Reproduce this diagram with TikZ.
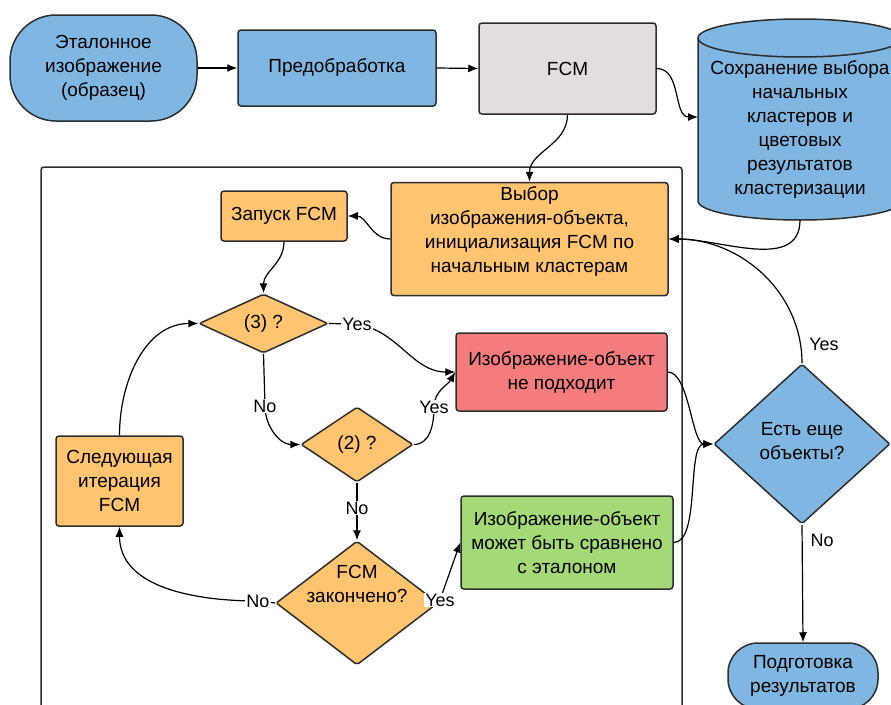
\documentclass[tikz,border=0pt]{standalone}
\usepackage{fontspec}
\setmainfont{Liberation Sans}
\usetikzlibrary{shapes.geometric,arrows.meta}
\definecolor{cblue}{RGB}{128,183,226}
\definecolor{corange}{RGB}{254,196,112}
\definecolor{cred}{RGB}{244,124,124}
\definecolor{cgreen}{RGB}{163,217,119}
\definecolor{cgrey}{RGB}{228,221,223}
\definecolor{cline}{RGB}{45,45,45}
\begin{document}
\begin{tikzpicture}[x=1pt,y=1pt,
  txt/.style={align=center, inner sep=0pt, font=\fontsize{19}{24}\selectfont, text=black},
  box/.style={txt, draw=cline, line width=1.5pt, rounded corners=3pt},
  dia/.style={txt, draw=cline, line width=1.5pt, shape=diamond, rounded corners=2pt},
  lbl/.style={fill=white, inner sep=1pt, font=\fontsize{18}{20}\selectfont, text=black},
  plainlbl/.style={inner sep=1pt, font=\fontsize{18}{20}\selectfont, text=black},
  conn/.style={draw=black, line width=1.2pt, -{Latex[length=10pt,width=8pt]}},
]
\useasboundingbox (0,0) rectangle (891,-704);
\clip (0,0) rectangle (891,-704);

% container
\draw[cline, line width=1.5pt, rounded corners=3pt] (41,-167) rectangle (682,-740);

% top row
\node[box, fill=cblue, rounded corners=46pt, minimum width=187pt, minimum height=106pt] (ref) at (103.5,-68) {Эталонное\\изображение\\(образец)};
\node[box, fill=cblue, minimum width=198pt, minimum height=76pt] (pre) at (337,-68) {Предобработка};
\node[box, fill=cgrey, minimum width=177pt, minimum height=91pt] (fcm) at (567.5,-68.5) {FCM};

% cylinder
\path[draw=cline, fill=cblue, line width=1.5pt] (698,-38) -- (698,-201)
  arc[start angle=180, end angle=360, x radius=102, y radius=19] -- (902,-38)
  arc[start angle=0, end angle=180, x radius=102, y radius=19] -- cycle;
\draw[cline, line width=1.5pt] (698,-38) arc[start angle=180, end angle=360, x radius=102, y radius=19];
\node[txt] (cyl) at (800,-130) {Сохранение выбора\\начальных\\кластеров и\\цветовых\\результатов\\кластеризации};
\coordinate (cylL) at (698,-117);
\coordinate (cylB) at (800,-220);

% inner flow
\node[box, fill=corange, minimum width=277pt, minimum height=113pt] (sel) at (529.5,-239) {};
\node[txt] (seltxt) at (529.5,-232) {Выбор\\изображения-объекта,\\инициализация FCM по\\начальным кластерам};
\node[box, fill=corange, minimum width=126pt, minimum height=50pt] (start) at (284,-216) {Запуск FCM};
\node[dia, fill=corange, minimum width=129pt, minimum height=59pt] (d3) at (263.5,-323.5) {(3) ?};
\node[dia, fill=corange, minimum width=112pt, minimum height=75pt] (d2) at (357,-444.5) {(2) ?};
\node[dia, fill=corange, minimum width=162pt, minimum height=124pt] (d4) at (357,-603) {};
\node[txt] (d4txt) at (357,-584) {FCM\\закончено?};
\node[box, fill=corange, minimum width=127pt, minimum height=90pt] (next) at (119.5,-481) {Следующая\\итерация\\FCM};
\node[box, fill=cred, minimum width=211pt, minimum height=78pt] (red) at (561.5,-372) {Изображение-объект\\не подходит};
\node[box, fill=cgreen, minimum width=212pt, minimum height=93pt] (green) at (567,-542.5) {Изображение-объект\\может быть сравнено\\с эталоном};
\node[dia, fill=cblue, minimum width=176pt, minimum height=160pt] (dE) at (802,-444) {};
\node[txt] (dEtxt) at (802,-441) {Есть еще\\объекты?};
\node[box, fill=cblue, rounded corners=30pt, minimum width=150pt, minimum height=66pt] (prep) at (803,-676) {Подготовка\\результатов};

% label positions
\coordinate (yes1) at (357,-324);
\coordinate (no1) at (265,-406);
\coordinate (yes2) at (434,-407);
\coordinate (no2) at (357,-508);
\coordinate (no3) at (258,-601);
\coordinate (yes3) at (440,-600);

% connectors
\draw[conn] (ref.east) -- (pre.west);
\draw[conn] (pre.east) -- (fcm.west);
\draw[conn] (fcm.east) to[out=0,in=180] (cylL);
\draw[conn] (fcm.south) to[out=-90,in=90] (sel.north);
\draw[conn] (cylB) to[out=-90,in=0] (sel.east);
\draw[conn] (dE.north) to[out=90,in=0] (sel.east);
\draw[conn] (sel.west) to[out=180,in=0] (start.east);
\draw[conn] (start.south) to[out=-90,in=90] (d3.north);
\draw[conn] (d3.east) -- (yes1) to[out=-10,in=180] (red.west);
\draw[conn] (d3.south) -- (no1) to[out=-90,in=180] (d2.west);
\draw[conn] (d2.east) to[out=0,in=-90] (yes2) to[out=90,in=240] (red.west);
\draw[conn] (d2.south) -- (d4.north);
\draw[conn] (d4.west) -- (no3) to[out=180,in=-90] (next.south);
\draw[conn] (next.north) to[out=90,in=180] (d3.west);
\draw[conn] (d4.east) -- (yes3) -- (green.west);
\draw[conn] (red.east) to[out=0,in=180,looseness=0.65] (dE.west);
\draw[conn] (green.east) to[out=0,in=180,looseness=0.65] (dE.west);
\draw[conn] (dE.south) -- (prep.north);

% labels
\node[lbl] (yes1t) at (yes1) {Yes};
\node[lbl] (no1t) at (no1) {No};
\node[lbl] (yes2t) at (yes2) {Yes};
\node[lbl] (no2t) at (no2) {No};
\node[lbl] (no3t) at (no3) {No};
\node[lbl] (yes3t) at (yes3) {Yes};
\node[plainlbl] (yesEt) at (824,-344) {Yes};
\node[plainlbl] (noEt) at (822,-540) {No};
\end{tikzpicture}
\end{document}
